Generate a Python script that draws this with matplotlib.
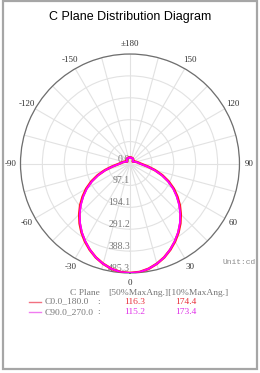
import numpy as np
import matplotlib
matplotlib.use("Agg")
import matplotlib.pyplot as plt
from matplotlib.lines import Line2D
from matplotlib.patches import Rectangle

# gamma angles (deg) and intensities (cd)
gamma = [0, 5, 10, 15, 20, 25, 30, 35, 40, 45, 50, 55, 60, 65, 70, 75, 80, 85,
         90, 95, 100, 105, 110, 115, 120, 125, 130, 135, 140, 145, 150, 155,
         160, 165, 170, 175, 180]
c0_180 = [485.3, 483, 474, 460, 443, 422, 399, 374, 347, 318, 288, 256, 224,
          189, 152, 115, 82, 58, 45, 38, 33, 28, 24, 20, 17, 15, 16, 19, 22,
          24, 25, 26, 26, 26, 26, 26, 26]
c90_270 = [485.3, 483, 474, 460, 443, 421, 397, 372, 344, 315, 284, 252, 220,
           185, 149, 112, 79, 55, 43, 37, 32, 27, 23, 19, 16, 15, 16, 19, 22,
           24, 25, 26, 26, 26, 26, 26, 26]

ring_values = [0.0, 97.1, 194.1, 291.2, 388.3, 485.3]
r_max = 485.3

grid_angles = list(range(0, 360, 15))
angle_labels = ["0", "", "30", "", "60", "", "90", "", "120", "", "150", "",
                "\u00b1180", "", "-150", "", "-120", "", "-90", "", "-60", "",
                "-30", ""]

series_names = ["C0.0_180.0", "C90.0_270.0"]
half_angles = ["116.3", "115.2"]
tenth_angles = ["174.4", "173.4"]
curve_colors = ["#ff1a1a", "#ff00ff"]
text_colors = ["#e8303a", "#e030e8"]
sample_colors = ["#f27080", "#f07cf0"]

serif = "Liberation Serif"

fig = plt.figure(figsize=(2.6, 3.73), dpi=100)
fig.patch.set_facecolor("white")

ax = fig.add_axes([0.0788, 0.2681, 0.8423, 0.5871], projection="polar")
ax.set_theta_zero_location("S")
ax.set_theta_direction(1)

g = np.radians(gamma)
for vals, col, lw in zip([c0_180, c90_270], curve_colors, [1.9, 1.3]):
    v = np.array(vals)
    th = np.concatenate([-g[::-1], g[1:]])
    rr = np.concatenate([v[::-1], v[1:]])
    ax.plot(th, rr, color=col, lw=lw, zorder=3)

ax.set_ylim(0, r_max)
ax.set_yticks(ring_values[1:])
ax.set_yticklabels([])
ax.set_thetagrids(grid_angles, angle_labels, fontfamily=serif, fontsize=6.5,
                  color="#333333")
ax.tick_params(axis="x", size=0, pad=0)
ax.grid(color="#e2e2e2", lw=0.8)
ax.spines["polar"].set_color("#6e6e6e")
ax.spines["polar"].set_linewidth(0.9)

for v in ring_values:
    ax.text(0, v, f"{v:.1f}", ha="right", va="bottom", fontfamily=serif,
            fontsize=7, color="#777777", zorder=2)

fig.text(0.5, 0.954, "C Plane Distribution Diagram", ha="center", va="center",
         fontfamily="Liberation Sans", fontsize=9, color="black")

fig.text(0.985, 0.295, "Unit:cd", ha="right", va="center",
         fontfamily="Liberation Mono", fontsize=5.8, color="#8c8c8c")

# legend block
fig.text(70 / 260, 0.2145, "C Plane", ha="left", va="center",
         fontfamily=serif, fontsize=6.8, color="#777777")
fig.text(108 / 260, 0.2145, "[50%MaxAng.][10%MaxAng.]", ha="left",
         va="center", fontfamily=serif, fontsize=6.8, color="#777777")
row_y = [0.1912, 0.1630]
for i, name in enumerate(series_names):
    y = row_y[i]
    fig.add_artist(Line2D([29 / 260, 41 / 260], [y, y], color=sample_colors[i],
                          lw=1.0, transform=fig.transFigure))
    fig.text(45 / 260, y, name, ha="left", va="center", fontfamily=serif,
             fontsize=6.8, color="#777777")
    fig.text(97 / 260, y, ":", ha="left", va="center", fontfamily=serif,
             fontsize=6.8, color="#777777")
    fig.text(124 / 260, y, half_angles[i], ha="left", va="center",
             fontfamily=serif, fontsize=6.8, color=text_colors[i])
    fig.text(175 / 260, y, tenth_angles[i], ha="left", va="center",
             fontfamily=serif, fontsize=6.8, color=text_colors[i])

fig.add_artist(Rectangle((3 / 260, 4 / 373), 254 / 260, 368 / 373,
                         transform=fig.transFigure, fill=False,
                         edgecolor="#a6a6a6", lw=1.6))

fig.savefig("out.png", dpi=100)
